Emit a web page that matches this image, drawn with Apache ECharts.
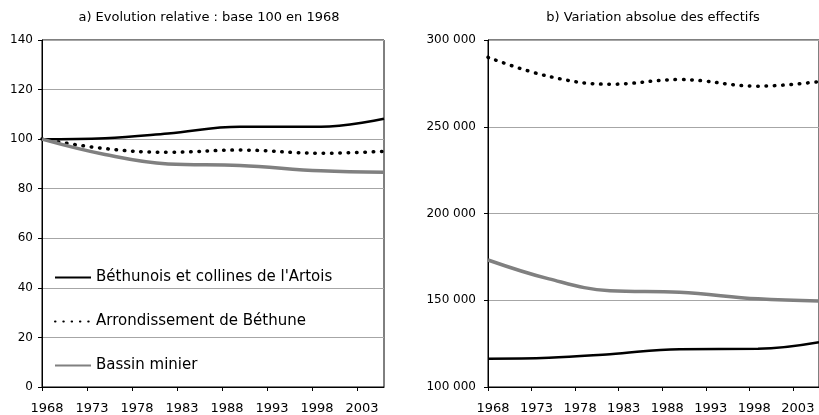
<!DOCTYPE html>
<html>
<head>
<meta charset="utf-8">
<script src="https://cdn.jsdelivr.net/npm/echarts@6/dist/echarts.min.js"></script>
<style>
    html, body { margin: 0; padding: 0; background: #fff; }
    #main { width: 819px; height: 415px; }
</style>
</head>
<body>
<div id="main"></div>
<script>
// annees du graphique (axe) et annees des recensements (points)
var annees = [];
for (var a = 1968; a <= 2006; a++) {
    annees.push(String(a));
}
var recensements = ['1968', '1975', '1982', '1990', '1999', '2006'];

var noms = ["Béthunois et collines de l'Artois", 'Arrondissement de Béthune', 'Bassin minier'];

// a) base 100 en 1968
var relBethunois = [100, 100.4, 102.3, 105, 105, 108.2];
var relArrondissement = [100, 96.2, 94.7, 95.6, 94.3, 95.1];
var relBassin = [100, 93.8, 90, 89.4, 87.2, 86.6];

// b) effectifs
var absBethunois = [116300, 116800, 118900, 121800, 122000, 125800];
var absArrondissement = [290000, 279000, 274500, 277200, 273400, 276000];
var absBassin = [173200, 162300, 155500, 154600, 150800, 149500];

var police = '"DejaVu Sans", sans-serif';

function paires(valeurs) {
    var res = [];
    for (var i = 0; i < recensements.length; i++) {
        res.push([recensements[i], valeurs[i]]);
    }
    return res;
}

var styles = [
    { color: '#000000', width: 2.5, type: 'solid', cap: 'butt' },
    { color: '#000000', width: 3.5, type: [0.5, 7.8], cap: 'round' },
    { color: '#808080', width: 3.5, type: 'solid', cap: 'butt' }
];

function serie(i, valeurs, idx) {
    return {
        name: noms[i],
        type: 'line',
        xAxisIndex: idx,
        yAxisIndex: idx,
        data: paires(valeurs),
        smooth: 0.4,
        symbol: 'none',
        lineStyle: styles[i],
        itemStyle: { color: styles[i].color },
        emphasis: { disabled: true },
        animation: false
    };
}

function axeX(idx) {
    return {
        type: 'category',
        gridIndex: idx,
        data: annees,
        boundaryGap: false,
        axisLine: { lineStyle: { color: '#000', width: 1 } },
        axisTick: { interval: 4, length: 4, lineStyle: { color: '#000' } },
        axisLabel: {
            interval: 4, margin: 15, color: '#000', fontFamily: police, fontSize: 13,
            padding: [0, 0, 0, 10]
        },
        splitLine: { show: false }
    };
}

var myChart = echarts.init(document.getElementById('main'), null, { renderer: 'canvas' });

var option = {
    backgroundColor: '#fff',
    animation: false,
    title: [
        {
            text: 'a) Evolution relative : base 100 en 1968',
            left: 204, top: 6, textAlign: 'center',
            textStyle: { fontFamily: police, fontSize: 13, fontWeight: 'normal', color: '#000' }
        },
        {
            text: 'b) Variation absolue des effectifs',
            left: 648, top: 6, textAlign: 'center',
            textStyle: { fontFamily: police, fontSize: 13, fontWeight: 'normal', color: '#000' }
        }
    ],
    legend: {
        data: noms,
        orient: 'vertical',
        left: 54,
        top: 270,
        padding: 0,
        itemWidth: 36,
        itemHeight: 14,
        itemGap: 29,
        itemStyle: { opacity: 0 },
        textStyle: { fontFamily: police, fontSize: 15, color: '#000' },
        selectedMode: false
    },
    grid: [
        { left: 42, right: 435, top: 40, bottom: 26, show: true, borderColor: '#000', borderWidth: 1 },
        { left: 488, right: -9, top: 40, bottom: 26, show: true, borderColor: '#000', borderWidth: 1 }
    ],
    xAxis: [axeX(0), axeX(1)],
    yAxis: [
        {
            type: 'value', gridIndex: 0, min: 0, max: 140, interval: 20,
            axisLine: { show: true, lineStyle: { color: '#000' } },
            axisTick: { show: true, length: 4, lineStyle: { color: '#000' } },
            axisLabel: { margin: 9, color: '#000', fontFamily: police, fontSize: 12 },
            splitLine: { lineStyle: { color: '#a6a6a6', width: 1 } }
        },
        {
            type: 'value', gridIndex: 1, min: 100000, max: 300000, interval: 50000,
            axisLine: { show: true, lineStyle: { color: '#000' } },
            axisTick: { show: true, length: 4, lineStyle: { color: '#000' } },
            axisLabel: {
                margin: 12, color: '#000', fontFamily: police, fontSize: 12,
                formatter: function (v) { return (v / 1000) + ' 000'; }
            },
            splitLine: { lineStyle: { color: '#a6a6a6', width: 1 } }
        }
    ],
    series: [
        serie(0, relBethunois, 0),
        serie(1, relArrondissement, 0),
        serie(2, relBassin, 0),
        serie(0, absBethunois, 1),
        serie(1, absArrondissement, 1),
        serie(2, absBassin, 1)
    ]
};

myChart.setOption(option);
</script>
</body>
</html>
